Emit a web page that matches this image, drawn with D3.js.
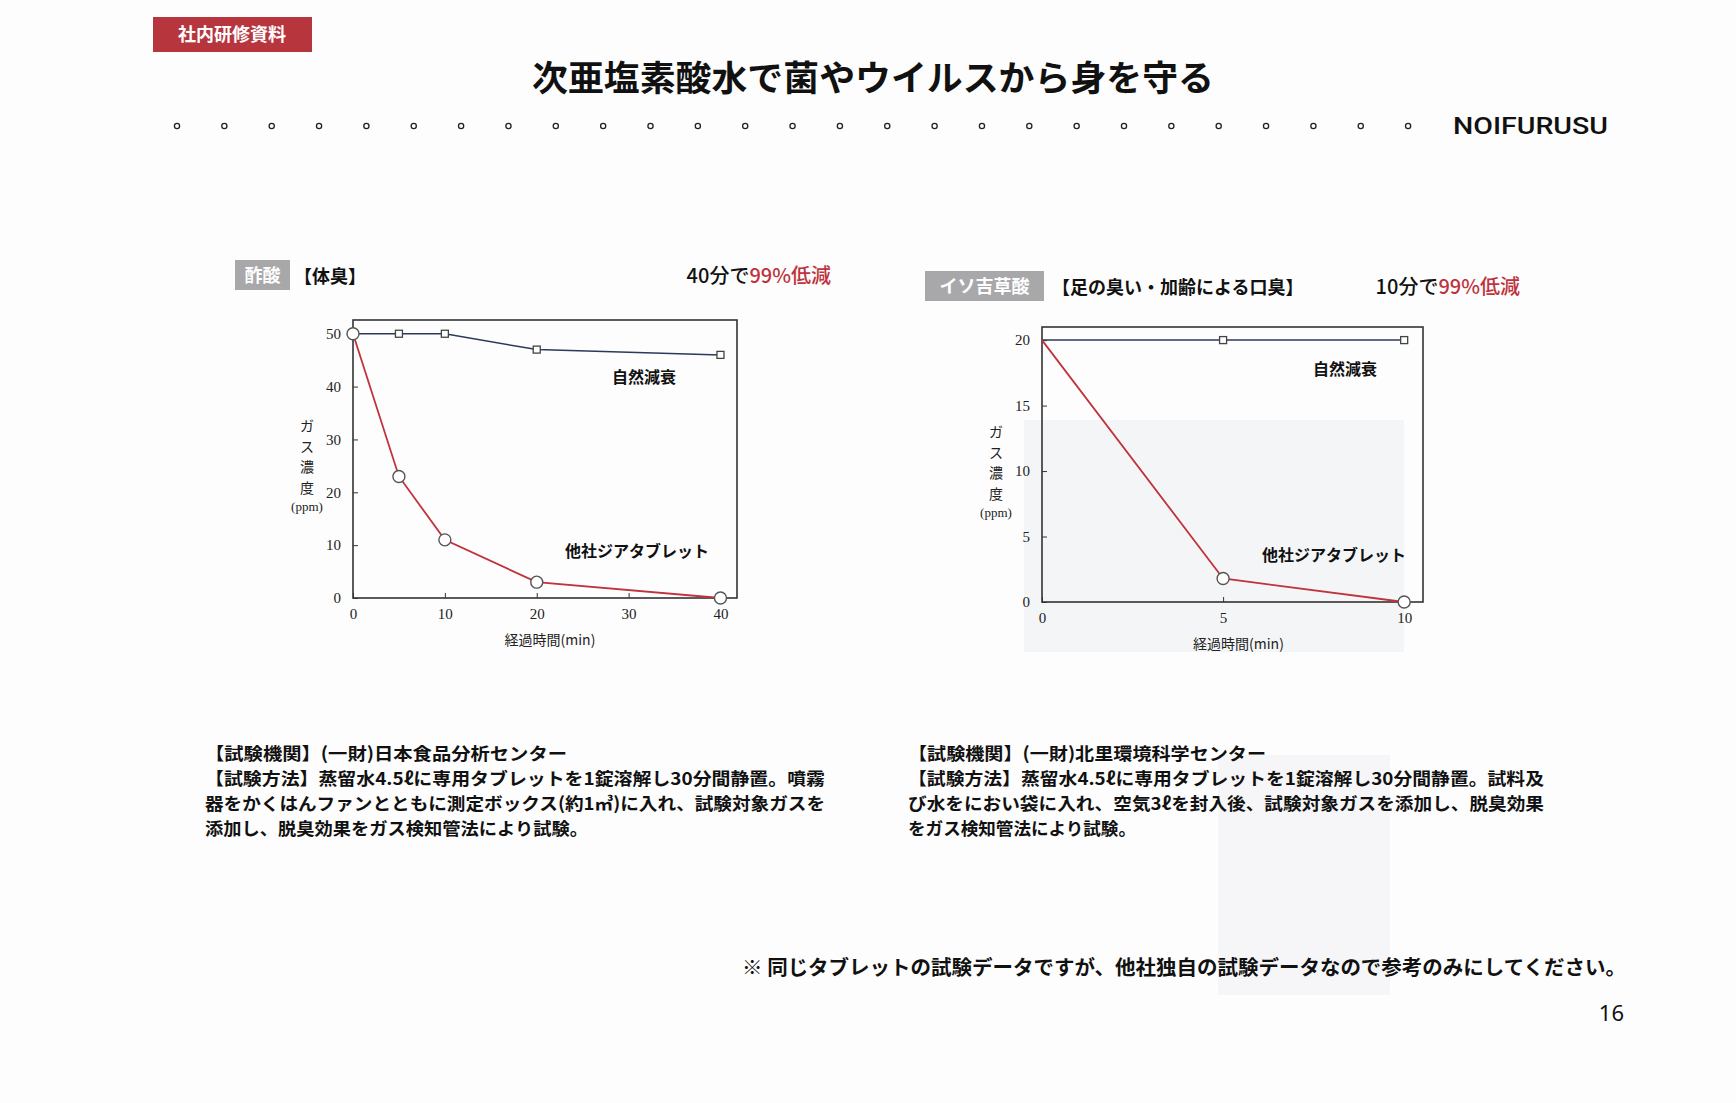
<!DOCTYPE html>
<html>
<head>
<meta charset="utf-8">
<script src="https://cdn.jsdelivr.net/npm/d3@7"></script>
<style>
  body { margin: 0; background: #fdfdfd; }
  svg { display: block; }
  .jp { font-family: "Noto Sans CJK JP", "Noto Sans", sans-serif; }
  .tick text { font-family: "Liberation Serif", "DejaVu Serif", serif; font-size: 15px; fill: #222; }
</style>
</head>
<body>
<svg id="page" width="1736" height="1103"></svg>
<script>
// ---- data ----
// 酢酸 (left chart)
const aceticTime = [0, 5, 10, 20, 40];
const aceticNatural = [50, 50, 50, 47, 46];
const aceticTablet = [50, 23, 11, 3, 0];
const aceticXTicks = [0, 10, 20, 30, 40];
const aceticYTicks = [0, 10, 20, 30, 40, 50];

// イソ吉草酸 (right chart)
const isoTime = [0, 5, 10];
const isoNatural = [20, 20, 20];
const isoTablet = [20, 1.8, 0];
const isoXTicks = [0, 5, 10];
const isoYTicks = [0, 5, 10, 15, 20];

const seriesNames = ["自然減衰", "他社ジアタブレット"];

const leftNote = [
  "【試験機関】(一財)日本食品分析センター",
  "【試験方法】蒸留水4.5ℓに専用タブレットを1錠溶解し30分間静置。噴霧",
  "器をかくはんファンとともに測定ボックス(約1㎥)に入れ、試験対象ガスを",
  "添加し、脱臭効果をガス検知管法により試験。"
];
const rightNote = [
  "【試験機関】(一財)北里環境科学センター",
  "【試験方法】蒸留水4.5ℓに専用タブレットを1錠溶解し30分間静置。試料及",
  "び水をにおい袋に入れ、空気3ℓを封入後、試験対象ガスを添加し、脱臭効果",
  "をガス検知管法により試験。"
];

const RED = "#c0323c";
const NAVY = "#2a3a58";

const svg = d3.select("#page");

//faint scan bleed-through patches
svg.append("rect").attr("x", 1024).attr("y", 420).attr("width", 380).attr("height", 232).attr("fill", "#f4f5f7");
svg.append("rect").attr("x", 1218).attr("y", 755).attr("width", 172).attr("height", 240).attr("fill", "#f6f6f8");

// ---- header ----
svg.append("rect").attr("x", 153).attr("y", 17).attr("width", 159).attr("height", 35).attr("fill", "#b7363d");
svg.append("text").attr("class", "jp").attr("x", 232).attr("y", 41)
  .attr("text-anchor", "middle").attr("font-size", 18).attr("font-weight", 700).attr("fill", "#fff")
  .text("社内研修資料");

svg.append("text").attr("class", "jp").attr("x", 532).attr("y", 91)
  .attr("font-size", 35).attr("font-weight", 700).attr("fill", "#111")
  .attr("textLength", 682).attr("lengthAdjust", "spacingAndGlyphs")
  .text("次亜塩素酸水で菌やウイルスから身を守る");

//row of little rings under the title
svg.append("g").selectAll("circle")
  .data(d3.range(27))
  .join("circle")
  .attr("cx", i => 177 + i * 47.35)
  .attr("cy", 126)
  .attr("r", 2.6)
  .attr("fill", "none")
  .attr("stroke", "#222")
  .attr("stroke-width", 1.3);

svg.append("text").attr("x", 1453).attr("y", 134)
  .attr("font-family", "Roboto, 'Noto Sans', sans-serif").attr("font-size", 24).attr("font-weight", 500)
  .attr("fill", "#111").attr("textLength", 155).attr("lengthAdjust", "spacingAndGlyphs")
  .text("NOIFURUSU");

/**
 * Draw one test chart: frame, inward ticks, two series and labels
 */
function drawChart(cfg) {
  const x = d3.scaleLinear().domain(cfg.xDomain).range([cfg.left, cfg.right]);
  const y = d3.scaleLinear().domain(cfg.yDomain).range([cfg.bottom, cfg.top]);
  const g = svg.append("g");

  g.append("rect")
    .attr("x", cfg.left).attr("y", cfg.top)
    .attr("width", cfg.right - cfg.left).attr("height", cfg.bottom - cfg.top)
    .attr("fill", "none").attr("stroke", "#333").attr("stroke-width", 1.6);

  g.append("g")
    .attr("transform", "translate(0," + cfg.bottom + ")")
    .call(d3.axisBottom(x).tickValues(cfg.xTicks).tickSizeInner(-5).tickSizeOuter(0).tickPadding(10))
    .call(a => a.select(".domain").remove())
    .call(a => a.selectAll("line").attr("stroke", "#333"));

  g.append("g")
    .attr("transform", "translate(" + cfg.left + ",0)")
    .call(d3.axisLeft(y).tickValues(cfg.yTicks).tickSizeInner(-5).tickSizeOuter(0).tickPadding(12))
    .call(a => a.select(".domain").remove())
    .call(a => a.selectAll("line").attr("stroke", "#333"));

  const line = d3.line().x(d => x(d[0])).y(d => y(d[1]));
  const natural = d3.zip(cfg.time, cfg.natural);
  const tablet = d3.zip(cfg.time, cfg.tablet);

  g.append("path").datum(natural).attr("d", line)
    .attr("fill", "none").attr("stroke", NAVY).attr("stroke-width", 1.5);
  g.append("path").datum(tablet).attr("d", line)
    .attr("fill", "none").attr("stroke", RED).attr("stroke-width", 1.8);

  g.append("g").selectAll("rect")
    .data(natural.slice(cfg.markFrom))
    .join("rect")
    .attr("x", d => x(d[0]) - 3.5).attr("y", d => y(d[1]) - 3.5)
    .attr("width", 7).attr("height", 7)
    .attr("fill", "#fff").attr("stroke", "#444").attr("stroke-width", 1.3);

  g.append("g").selectAll("circle")
    .data(tablet.slice(cfg.markFrom))
    .join("circle")
    .attr("cx", d => x(d[0])).attr("cy", d => y(d[1]))
    .attr("r", 6)
    .attr("fill", "#fff").attr("stroke", "#555").attr("stroke-width", 1.4);

  //series names inside the plot
  g.append("text").attr("class", "jp").attr("x", cfg.naturalLabel[0]).attr("y", cfg.naturalLabel[1])
    .attr("font-size", 16).attr("font-weight", 700).attr("fill", "#111").text(seriesNames[0]);
  g.append("text").attr("class", "jp").attr("x", cfg.tabletLabel[0]).attr("y", cfg.tabletLabel[1])
    .attr("font-size", 16).attr("font-weight", 700).attr("fill", "#111").text(seriesNames[1]);

  //stacked vertical y title
  const yTitle = g.append("g").attr("class", "jp").attr("fill", "#222").attr("text-anchor", "middle");
  ["ガ", "ス", "濃", "度"].forEach((ch, i) => {
    yTitle.append("text").attr("x", cfg.yTitleX).attr("y", cfg.yTitleY + i * 20.5)
      .attr("font-size", 14).text(ch);
  });
  yTitle.append("text").attr("x", cfg.yTitleX).attr("y", cfg.yTitleY + 4 * 20.5 - 2)
    .attr("font-family", "'Liberation Serif', serif").attr("font-size", 13).text("(ppm)");

  g.append("text").attr("class", "jp").attr("x", (cfg.left + cfg.right) / 2 - cfg.xTitleShift).attr("y", cfg.bottom + 47)
    .attr("text-anchor", "middle").attr("font-size", 14).attr("fill", "#222")
    .text("経過時間(min)");
}

drawChart({
  time: aceticTime, natural: aceticNatural, tablet: aceticTablet,
  xTicks: aceticXTicks, yTicks: aceticYTicks,
  xDomain: [0, 41.8], yDomain: [0, 52.6],
  left: 353, right: 737, top: 320, bottom: 598,
  markFrom: 0,
  naturalLabel: [612, 383], tabletLabel: [565, 557],
  yTitleX: 307, yTitleY: 431, xTitleShift: -5
});

drawChart({
  time: isoTime, natural: isoNatural, tablet: isoTablet,
  xTicks: isoXTicks, yTicks: isoYTicks,
  xDomain: [0, 10.52], yDomain: [0, 21],
  left: 1042, right: 1423, top: 327, bottom: 602,
  markFrom: 1,
  naturalLabel: [1313, 375], tabletLabel: [1262, 561],
  yTitleX: 996, yTitleY: 437, xTitleShift: -6
});

// ---- chart headings ----
function heading(boxX, boxY, boxW, tag, subject, subjectX, baseY, claimEnd, minutes) {
  svg.append("rect").attr("x", boxX).attr("y", boxY).attr("width", boxW).attr("height", 30).attr("fill", "#a8a8aa");
  svg.append("text").attr("class", "jp").attr("x", boxX + boxW / 2).attr("y", boxY + 22)
    .attr("text-anchor", "middle").attr("font-size", 18).attr("font-weight", 700).attr("fill", "#fff").text(tag);
  svg.append("text").attr("class", "jp").attr("x", subjectX).attr("y", baseY)
    .attr("font-size", 18).attr("font-weight", 700).attr("fill", "#111").text(subject);
  const t = svg.append("text").attr("class", "jp").attr("x", claimEnd).attr("y", baseY)
    .attr("text-anchor", "end").attr("font-size", 20).attr("font-weight", 500);
  t.append("tspan").attr("fill", "#111").text(minutes + "分で");
  t.append("tspan").attr("fill", RED).text("99%低減");
}
heading(235, 260, 55, "酢酸", "【体臭】", 294, 283, 831, 40);
heading(925, 271, 119, "イソ吉草酸", "【足の臭い・加齢による口臭】", 1052, 294, 1520, 10);

// ---- notes ----
function note(lines, x, widths) {
  lines.forEach((s, i) => {
    svg.append("text").attr("class", "jp").attr("x", x).attr("y", 760 + i * 25)
      .attr("font-size", 17.5).attr("font-weight", 700).attr("fill", "#111")
      .attr("textLength", widths[i]).attr("lengthAdjust", "spacingAndGlyphs")
      .text(s);
  });
}
note(leftNote, 205, [362, 620, 620, 383]);
note(rightNote, 908, [358, 636, 636, 228]);

svg.append("text").attr("class", "jp").attr("x", 742).attr("y", 975)
  .attr("font-size", 20).attr("font-weight", 700).attr("fill", "#111")
  .attr("textLength", 884).attr("lengthAdjust", "spacingAndGlyphs")
  .text("※ 同じタブレットの試験データですが、他社独自の試験データなので参考のみにしてください。");

svg.append("text").attr("x", 1624).attr("y", 1021).attr("text-anchor", "end")
  .attr("font-family", "'Noto Sans', sans-serif").attr("font-size", 22).attr("fill", "#111")
  .text("16");
</script>
</body>
</html>
